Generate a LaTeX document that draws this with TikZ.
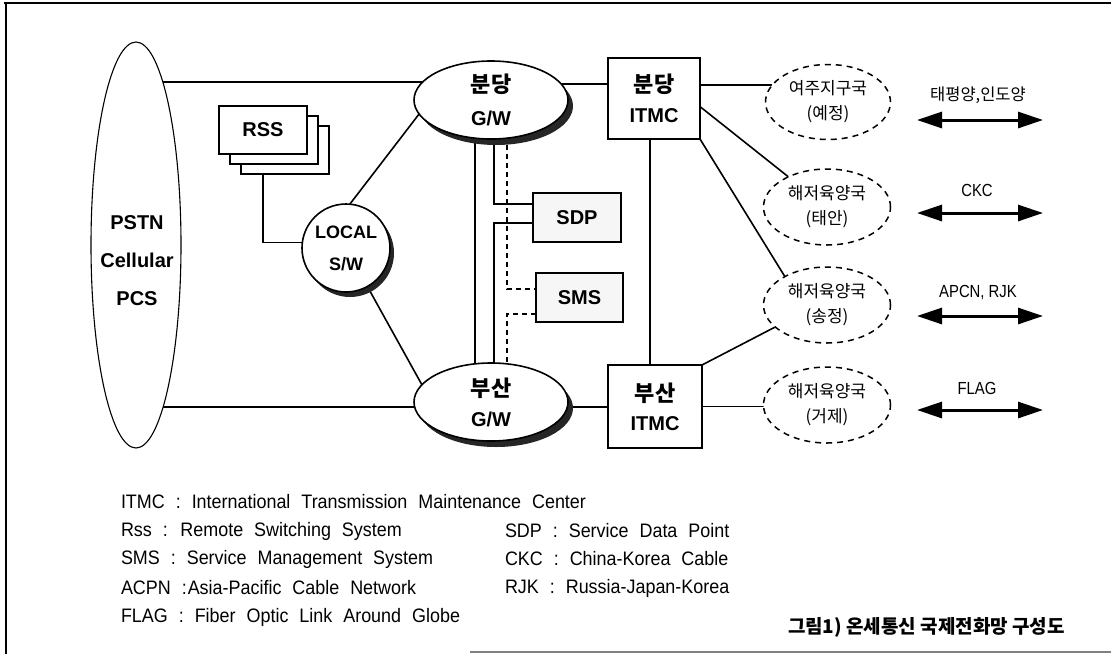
\documentclass[tikz,border=0pt]{standalone}
\usepackage{fontspec}
\setmainfont{Liberation Sans}
\newfontfamily\kr{Noto Sans CJK KR}
\newfontfamily\legfont{Liberation Sans}[FakeStretch=0.92,WordSpace=2.2]
\newfontfamily\narrowfont{Liberation Sans}[FakeStretch=0.85]
\usetikzlibrary{shapes.geometric,shadows,backgrounds,arrows.meta,calc}
\begin{document}
\begin{tikzpicture}[x=1pt,y=-1pt,
  every node/.style={outer sep=0pt,inner sep=0pt},
  ln/.style={line width=1.6pt},
  dln/.style={line width=1.5pt,dash pattern=on 5pt off 4pt},
  bx/.style={draw,rectangle,line width=1.6pt,fill=white},
  gwnode/.style={draw,ellipse,line width=1.6pt,fill=white,minimum width=154pt,minimum height=78pt,align=center,
    drop shadow={shadow xshift=5pt,shadow yshift=-6pt,fill=black!85,opacity=1}},
  station/.style={draw,ellipse,line width=1.5pt,dash pattern=on 6pt off 5pt,fill=white,minimum width=127pt,minimum height=76pt,align=center,
    font=\kr\fontsize{17}{25}\selectfont},
  lab/.style={font=\bfseries\fontsize{20}{30}\selectfont},
  dbl/.style={line width=3pt,{Triangle[length=25pt,width=16pt]}-{Triangle[length=25pt,width=16pt]}},
  cablab/.style={font=\narrowfont\fontsize{17.5}{20}\selectfont},
  leg/.style={anchor=west,font=\legfont\fontsize{19.5}{22}\selectfont}]
\useasboundingbox (0,0) rectangle (1111,654);
% frame
\draw[line width=1.5pt] (4,3) -- (1111,3);
\draw[line width=1.5pt] (6,3) -- (6,654);
\draw[line width=1.2pt,gray] (470,652) -- (1111,652);

% nodes
\node[draw,ellipse,line width=1.1pt,fill=white,minimum width=90pt,minimum height=406pt] (pstn) at (136,245) {};
\node[lab,align=center,font=\bfseries\fontsize{20}{38}\selectfont] (pstntxt) at (137,261) {PSTN\\Cellular\\PCS};

\node[bx,lab,minimum width=88pt,minimum height=48pt,
  double copy shadow={shadow xshift=11pt,shadow yshift=-10pt,draw=black,fill=white,line width=1.6pt}] (rss) at (263,130) {RSS};

\node[draw,circle,line width=1.6pt,fill=white,minimum size=88pt,align=center,
  font=\bfseries\fontsize{18}{32}\selectfont,
  drop shadow={shadow xshift=4pt,shadow yshift=-5pt,fill=black!85,opacity=1}] (local) at (346,248) {LOCAL\\S/W};

\node[gwnode,font=\bfseries\fontsize{20}{33}\selectfont] (gw1) at (491,100) {{\kr\fontsize{22}{33}\selectfont 분당}\\G/W};
\node[gwnode,font=\bfseries\fontsize{20}{30}\selectfont] (gw2) at (491,402) {{\kr\fontsize{22}{30}\selectfont 부산}\\G/W};

\node[bx,minimum width=92pt,minimum height=81pt,align=center,font=\bfseries\fontsize{20}{30}\selectfont] (itmc1) at (654,98.5) {{\kr\fontsize{22}{30}\selectfont 분당}\\ITMC};
\node[bx,minimum width=94pt,minimum height=83pt,align=center,font=\bfseries\fontsize{20}{29}\selectfont] (itmc2) at (655,406.5) {{\kr\fontsize{22}{29}\selectfont 부산}\\ITMC};

\node[bx,lab,fill=gray!7,minimum width=88pt,minimum height=49pt] (sdp) at (577,217.5) {SDP};
\node[bx,lab,fill=gray!7,minimum width=87pt,minimum height=49pt] (sms) at (579.5,297.5) {SMS};

\node[station,minimum width=125pt,minimum height=75pt] (yj) at (828,102) {여주지구국\\(예정)};
\node[station] (ta) at (827,207) {해저육양국\\(태안)};
\node[station] (sj) at (827,305) {해저육양국\\(송정)};
\node[station] (gj) at (827,405) {해저육양국\\(거제)};

% cable arrows
\coordinate (a1l) at (917,120); \coordinate (a1r) at (1043,120);
\coordinate (a2l) at (917,213); \coordinate (a2r) at (1043,213);
\coordinate (a3l) at (917,316); \coordinate (a3r) at (1043,316);
\coordinate (a4l) at (917,410); \coordinate (a4r) at (1043,410);
\draw[dbl] (a1l) -- (a1r);
\draw[dbl] (a2l) -- (a2r);
\draw[dbl] (a3l) -- (a3r);
\draw[dbl] (a4l) -- (a4r);
\node[font=\kr\fontsize{16.5}{18}\selectfont] (c1) at (978,95) {태평양,인도양};
\node[cablab] (c2) at (977,190) {CKC};
\node[cablab] (c3) at (978,293) {APCN, RJK};
\node[cablab] (c4) at (977,388) {FLAG};

% connectors
\begin{pgfonlayer}{background}
\draw[ln] (pstn.center |- gw1.165) -- (gw1.165);
\draw[ln] ([yshift=-5pt]pstn.center |- gw2.center) -- ([yshift=-5pt]gw2.center);
\draw[ln] (rss.center) |- (local.173);
\draw[ln] (local.85) -- (gw1.191);
\draw[ln] (local.center) -- (gw2.166);
\draw[ln] (gw1.13) -- (gw1.13 -| itmc1.center);
\draw[ln] (yj.163 -| itmc1.center) -- (yj.163);
\draw[ln] ($(itmc1.north east)!0.6!(itmc1.south east)$) -- (ta.142);
\draw[ln] (itmc1.south east) -- (sj.146);
\draw[ln] (itmc2.north east) -- (sj.203);
\draw[ln] (itmc2.center) -- (itmc2.center -| gj.west);
\draw[ln] ([xshift=-4pt]itmc1.center) -- ([xshift=-4pt]itmc1.center |- itmc2.center);
\draw[ln] ([yshift=-5pt]gw2.center) -- ([yshift=-5pt]gw2.center -| itmc2.center);
\draw[ln] ([xshift=-16pt]gw1.center) -- ([xshift=-16pt]gw2.center);
\draw[ln] ([xshift=3pt]gw1.center) |- ([yshift=13.5pt]sdp.west);
\draw[ln] ([yshift=-5.5pt]sdp.west) -| ([xshift=3pt]gw2.center);
\draw[dln] ([xshift=16pt]gw1.center) |- ([yshift=8.5pt]sms.west);
\draw[dln] ([yshift=-16.5pt]sms.west) -| ([xshift=16pt]gw2.center);
\end{pgfonlayer}

% legend
\node[leg] (l1) at (121,502) {ITMC : International Transmission Maintenance Center};
\node[leg] (l2) at (121,531) {Rss : Remote Switching System};
\node[leg] (l3) at (121,559) {SMS : Service Management System};
\node[leg] (l4) at (121,588) {ACPN :\hspace{1pt}Asia-Pacific Cable Network};
\node[leg] (l5) at (121,617) {FLAG : Fiber Optic Link Around Globe};
\node[leg] (r1) at (505,531) {SDP : Service Data Point};
\node[leg] (r2) at (505,559) {CKC : China-Korea Cable};
\node[leg] (r3) at (505,588) {RJK : Russia-Japan-Korea};
\node[anchor=west,font=\kr\bfseries\fontsize{19}{22}\selectfont] (title) at (788,627) {그림1) 온세통신 국제전화망 구성도};
\end{tikzpicture}
\end{document}
